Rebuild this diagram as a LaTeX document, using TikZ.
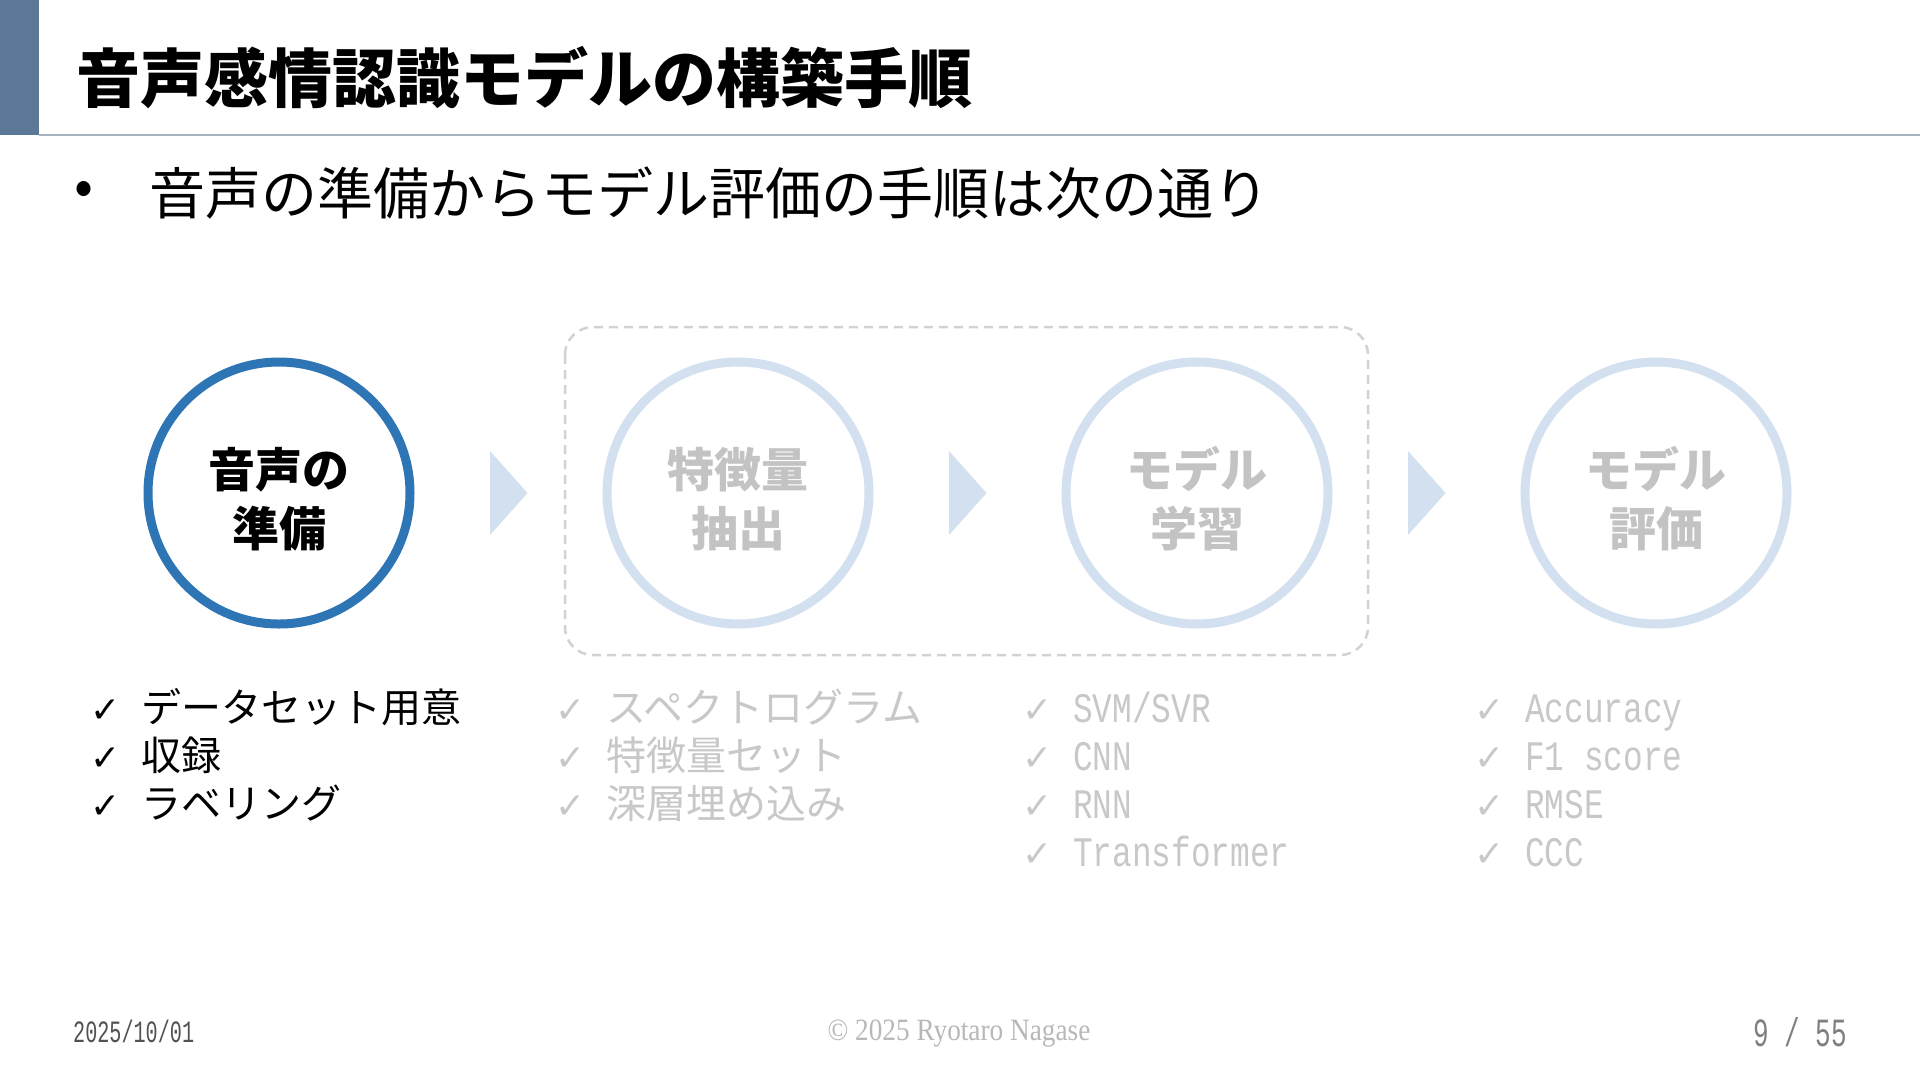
\documentclass[tikz,border=0pt]{standalone}
\usepackage{fontspec}
\usetikzlibrary{calc}
\setmainfont{Noto Sans CJK JP}
\newfontfamily\checkfont{DejaVu Sans}
\newfontfamily\latmono[FakeStretch=0.78]{Liberation Mono}
\newfontfamily\footmono[FakeStretch=0.65]{Liberation Mono}
\newfontfamily\footserif[FakeStretch=0.88]{Liberation Serif}
\definecolor{barcol}{HTML}{5B7896}
\definecolor{rulecol}{HTML}{A7B5C1}
\definecolor{activeblue}{HTML}{2E75B6}
\definecolor{paleblue}{HTML}{D3E0EF}
\definecolor{dashgray}{HTML}{D2D2D2}
\definecolor{mutedtext}{HTML}{C3C3C3}
\definecolor{mutedlist}{HTML}{C8C8C8}
\tikzset{
  stepcircle/.style={circle, minimum size=262pt, inner sep=0pt, line width=9pt},
  activestep/.style={stepcircle, draw=activeblue},
  mutedstep/.style={stepcircle, draw=paleblue},
  steplabel/.style={inner sep=0pt, align=center, font=\bfseries\fontsize{47}{59}\selectfont},
  itemrow/.style={anchor=west, inner sep=0pt, text height=30pt, text depth=6pt, font=\fontsize{40}{44}\selectfont},
  chevron/.style={fill=paleblue},
}
\newcommand{\chk}{\makebox[51pt][l]{\checkfont\fontsize{36}{36}\selectfont ✓}}
\newcommand{\lat}[1]{{\latmono\fontsize{42}{44}\selectfont #1}}
\begin{document}
\begin{tikzpicture}[x=1pt,y=-1pt]
\useasboundingbox (0,0) rectangle (1920,1080);
\fill[white] (0,0) rectangle (1920,1080);
% header
\fill[barcol] (0,0) rectangle (39,135);
\draw[rulecol, line width=2pt] (39,135) -- (1920,135);
\node[anchor=west, inner sep=0pt, font=\bfseries\fontsize{64}{70}\selectfont] (title) at (76,78) {音声感情認識モデルの構築手順};
\node[anchor=west, inner sep=0pt, font=\fontsize{56}{60}\selectfont] (bullet) at (74,193) {•};
\node[anchor=west, inner sep=0pt, font=\fontsize{56}{60}\selectfont] (sub) at (149,193) {音声の準備からモデル評価の手順は次の通り};
% dashed group
\draw[dashgray, line width=2.5pt, dash pattern=on 9pt off 6pt, rounded corners=28pt] (565,327) rectangle (1368,655);
% circles
\node[activestep] (c1) at (279,493) {};
\node[mutedstep] (c2) at (738,493) {};
\node[mutedstep] (c3) at (1197,493) {};
\node[mutedstep] (c4) at (1656,493) {};
\node[steplabel, text=black] (c1t) at ($(c1)+(0,6)$) {音声の\\準備};
\node[steplabel, text=mutedtext] (c2t) at ($(c2)+(0,6)$) {特徴量\\抽出};
\node[steplabel, text=mutedtext] (c3t) at ($(c3)+(0,6)$) {モデル\\学習};
\node[steplabel, text=mutedtext] (c4t) at ($(c4)+(0,6)$) {モデル\\評価};
% chevrons
\foreach \a/\b/\n in {c1/c2/t1, c2/c3/t2, c3/c4/t3}{
  \coordinate (\n) at ($(\a)!0.5!(\b)$);
  \fill[chevron] ($(\n)+(-18.5,-42)$) -- ($(\n)+(-18.5,42)$) -- ($(\n)+(19,0)$) -- cycle;
}
% lists
\node[itemrow] (l11) at (90,710) {\chk データセット用意};
\node[itemrow] (l12) at (90,758) {\chk 収録};
\node[itemrow] (l13) at (90,806) {\chk ラベリング};
\begin{scope}[every node/.append style={text=mutedlist}]
\node[itemrow] (l21) at (555,710) {\chk スペクトログラム};
\node[itemrow] (l22) at (555,758) {\chk 特徴量セット};
\node[itemrow] (l23) at (555,806) {\chk 深層埋め込み};
\node[itemrow] (l31) at (1022,710) {\chk \lat{SVM/SVR}};
\node[itemrow] (l32) at (1022,758) {\chk \lat{CNN}};
\node[itemrow] (l33) at (1022,806) {\chk \lat{RNN}};
\node[itemrow] (l34) at (1022,854) {\chk \lat{Transformer}};
\node[itemrow] (l41) at (1474,710) {\chk \lat{Accuracy}};
\node[itemrow] (l42) at (1474,758) {\chk \lat{F1 score}};
\node[itemrow] (l43) at (1474,806) {\chk \lat{RMSE}};
\node[itemrow] (l44) at (1474,854) {\chk \lat{CCC}};
\end{scope}
% footer
\node[anchor=west, inner sep=0pt, text=black!68, font=\footmono\fontsize{31}{34}\selectfont] (date) at (73,1031) {2025/10/01};
\node[inner sep=0pt, text=black!28, font=\footserif\fontsize{31}{34}\selectfont] (copy) at (959,1034) {© 2025 Ryotaro Nagase};
\node[anchor=east, inner sep=0pt, text=black!50, font=\footmono\fontsize{40}{44}\selectfont] (page) at (1847,1032) {9 / 55};
\end{tikzpicture}
\end{document}
